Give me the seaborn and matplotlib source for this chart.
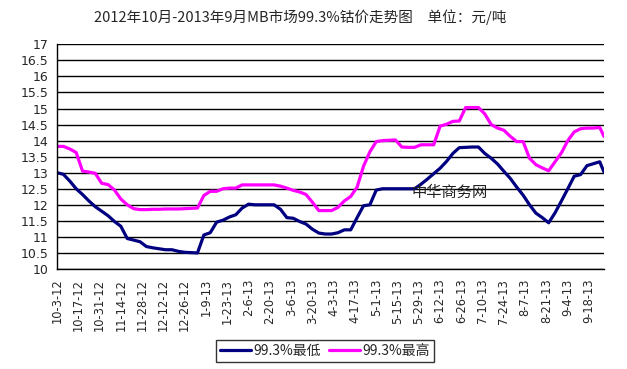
import numpy as np
import pandas as pd
import matplotlib
matplotlib.use("Agg")
import matplotlib.pyplot as plt
import seaborn as sns
from matplotlib.lines import Line2D

# ---- data (one point every 3 trading days) ----
day_index = list(range(0, 256, 3)) + [257]

low_values = [
    13.00, 12.95, 12.74, 12.50, 12.32, 12.12, 11.94, 11.80, 11.66, 11.48,
    11.33, 10.95, 10.90, 10.85, 10.70, 10.66, 10.63, 10.60,
    10.60, 10.55, 10.52, 10.51, 10.50, 11.06, 11.13, 11.46, 11.52, 11.62,
    11.69, 11.90, 12.02, 12.00, 12.00, 12.00, 12.00, 11.86, 11.60, 11.58,
    11.48, 11.40, 11.24, 11.12, 11.09,
    11.09, 11.13, 11.22, 11.22, 11.60, 11.97, 12.00, 12.46, 12.50, 12.50,
    12.50, 12.50, 12.50, 12.50, 12.64, 12.80, 12.97, 13.14, 13.35, 13.60,
    13.78, 13.79, 13.80,
    13.80, 13.60, 13.45, 13.27, 13.04, 12.82, 12.55, 12.30, 12.00, 11.74,
    11.60, 11.44, 11.75, 12.12, 12.50, 12.89, 12.94, 13.22, 13.28, 13.34,
    13.02,
]

high_values = [
    13.82, 13.82, 13.74, 13.63, 13.05, 13.02, 12.98, 12.67, 12.63, 12.46,
    12.18, 12.00, 11.88, 11.85, 11.85,
    11.86, 11.86, 11.87, 11.87, 11.87, 11.88, 11.89, 11.90, 12.29, 12.42,
    12.42, 12.50, 12.52, 12.52, 12.62, 12.62, 12.62, 12.62, 12.62, 12.62,
    12.58, 12.52, 12.45, 12.40, 12.32, 12.08, 11.82,
    11.82, 11.82, 11.92, 12.12, 12.26, 12.55, 13.20, 13.65, 13.97, 14.00,
    14.01, 14.02, 13.80, 13.79, 13.79, 13.87, 13.87, 13.87, 14.45, 14.51,
    14.60, 14.61, 15.03, 15.03,
    15.03, 14.83, 14.50, 14.39, 14.32, 14.13, 13.97, 13.97, 13.45, 13.25,
    13.15, 13.06, 13.34, 13.62, 14.00, 14.27, 14.37, 14.39, 14.39, 14.41,
    14.13,
]

tick_labels = ["10-3-12", "10-17-12", "10-31-12", "11-14-12", "11-28-12",
               "12-12-12", "12-26-12", "1-9-13", "1-23-13", "2-6-13",
               "2-20-13", "3-6-13", "3-20-13", "4-3-13", "4-17-13",
               "5-1-13", "5-15-13", "5-29-13", "6-12-13", "6-26-13",
               "7-10-13", "7-24-13", "8-7-13", "8-21-13", "9-4-13",
               "9-18-13"]
y_ticks = [10, 10.5, 11, 11.5, 12, 12.5, 13, 13.5, 14, 14.5, 15, 15.5, 16, 16.5, 17]
y_tick_labels = ["10", "10.5", "11", "11.5", "12", "12.5", "13", "13.5",
                 "14", "14.5", "15", "15.5", "16", "16.5", "17"]

series_low = "99.3%最低"
series_high = "99.3%最高"
title = "2012年10月-2013年9月MB市场99.3%钴价走势图　单位：元/吨"
watermark = "中华商务网"

# ---- build tidy frame ----
n = min(len(day_index), len(low_values), len(high_values))
df = pd.DataFrame({
    "day": day_index[:n] * 2,
    "price": low_values[:n] + high_values[:n],
    "series": [series_low] * n + [series_high] * n,
})

sns.set_style("white")
plt.rcParams["font.family"] = ["DejaVu Sans", "Noto Sans CJK SC"]
cjk = ["Noto Sans CJK SC", "DejaVu Sans"]

fig = plt.figure(figsize=(6.27, 3.69), dpi=100)
ax = fig.add_axes([57 / 627, 1 - 269 / 369, (604 - 57) / 627, (269 - 44.3) / 369])

sns.lineplot(data=df, x="day", y="price", hue="series",
             palette={series_low: "#000080", series_high: "#FF00FF"},
             linewidth=2.3, ax=ax, legend=False)

ax.set_xlim(0, 257)
ax.set_ylim(10, 17)
ax.set_yticks(y_ticks)
ax.set_yticklabels(y_tick_labels, fontsize=9)
ax.set_xticks([i * 10 for i in range(len(tick_labels))])
ax.set_xticklabels(tick_labels, rotation=90, fontsize=8.3, va="top", ha="center")
ax.tick_params(axis="y", length=0, pad=6)
ax.tick_params(axis="x", direction="in", length=3, width=1, color="black", pad=7)
ax.set_xlabel("")
ax.set_ylabel("")

ax.grid(axis="y", color="black", linewidth=1.0)
ax.grid(axis="x", visible=False)
ax.set_axisbelow(True)
for side in ["top", "right"]:
    ax.spines[side].set_visible(False)
for side in ["left", "bottom"]:
    ax.spines[side].set_color("black")
    ax.spines[side].set_linewidth(1.0)

fig.text(300 / 627, 1 - 17 / 369, title, ha="center", va="center",
         fontsize=10.5, family=cjk)
fig.text(450 / 627, 1 - 192 / 369, watermark, ha="center", va="center",
         fontsize=11, family=cjk, color="#222222")

handles = [Line2D([0], [0], color="#000080", lw=2.3),
           Line2D([0], [0], color="#FF00FF", lw=2.3)]
leg = fig.legend(handles, [series_low, series_high], loc="center",
                 bbox_to_anchor=(325 / 627, 1 - 351 / 369), ncol=2,
                 frameon=True, fancybox=False, edgecolor="black",
                 prop={"family": cjk, "size": 10}, handlelength=2.2,
                 handletextpad=0.2, columnspacing=0.6, borderpad=0.3)
leg.get_frame().set_linewidth(1.0)

fig.savefig("out.png", dpi=100)
